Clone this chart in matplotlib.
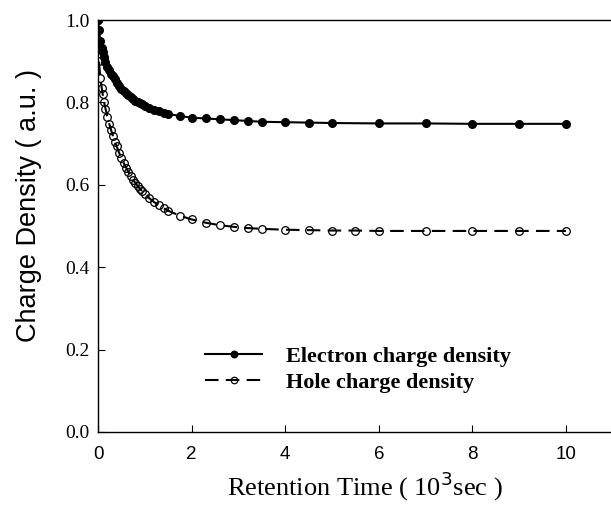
import matplotlib
matplotlib.use("Agg")
import matplotlib.pyplot as plt

# ---- data ----
t_electron = [0, 0.02, 0.05, 0.08, 0.1, 0.13, 0.16, 0.2, 0.24, 0.28, 0.32, 0.36, 0.4,
              0.45, 0.5, 0.55, 0.6, 0.65, 0.7, 0.75, 0.8, 0.85, 0.9, 0.95, 1.0, 1.1,
              1.2, 1.3, 1.4, 1.5, 1.75, 2.0, 2.3, 2.6, 2.9, 3.2, 3.5, 4, 4.5, 5, 6, 7,
              8, 9, 10]
electron = [1.0, 0.975, 0.95, 0.932, 0.922, 0.91, 0.898, 0.887, 0.878, 0.870, 0.863,
            0.856, 0.848, 0.840, 0.833, 0.827, 0.822, 0.817, 0.812, 0.808, 0.804, 0.801,
            0.798, 0.795, 0.792, 0.787, 0.782, 0.778, 0.775, 0.772, 0.767, 0.763, 0.761,
            0.759, 0.757, 0.755, 0.753, 0.752, 0.751, 0.750, 0.749, 0.749, 0.748, 0.748,
            0.748]

t_hole = [0, 0.02, 0.05, 0.08, 0.1, 0.13, 0.16, 0.2, 0.24, 0.28, 0.32, 0.36, 0.4,
          0.45, 0.5, 0.55, 0.6, 0.65, 0.7, 0.75, 0.8, 0.85, 0.9, 0.95, 1.0, 1.1, 1.2,
          1.3, 1.4, 1.5, 1.75, 2.0, 2.3, 2.6, 2.9, 3.2, 3.5, 4, 4.5, 5, 5.5, 6, 7, 8,
          9, 10]
hole = [1.0, 0.90, 0.86, 0.835, 0.82, 0.80, 0.785, 0.765, 0.748, 0.733, 0.718, 0.705,
        0.693, 0.678, 0.665, 0.653, 0.642, 0.631, 0.621, 0.612, 0.604, 0.597, 0.590,
        0.584, 0.578, 0.567, 0.558, 0.550, 0.543, 0.537, 0.525, 0.516, 0.508, 0.502,
        0.498, 0.495, 0.493, 0.491, 0.490, 0.489, 0.489, 0.488, 0.488, 0.488, 0.488,
        0.488]

x_ticks = [0, 2, 4, 6, 8, 10]
y_ticks = [0.0, 0.2, 0.4, 0.6, 0.8, 1.0]
labels = ["Electron charge density", "Hole charge density"]

serif = ["Liberation Serif", "DejaVu Serif"]
sans = ["Liberation Sans", "DejaVu Sans"]

fig = plt.figure(figsize=(6.11, 5.16), dpi=100)
ax = fig.add_axes([0.1604, 0.1628, 0.8396, 0.7984])

ax.plot(t_electron, electron, '-', color='black', lw=1.5, marker='o', ms=5.5,
        mfc='black', mec='black', label=labels[0])
ax.plot(t_hole, hole, '--', color='black', lw=1.5, marker='o', ms=5.5,
        mfc='none', mec='black', mew=0.9, dashes=(6.5, 3.5), label=labels[1])

ax.set_xlim(0, 10.96)
ax.set_ylim(0, 1.0)
ax.set_xticks(x_ticks)
ax.set_yticks(y_ticks)
ax.set_xticklabels([str(v) for v in x_ticks], fontfamily=sans, fontsize=13.5)
ax.set_yticklabels([f"{v:.1f}" for v in y_ticks], fontfamily=serif, fontsize=14)
ax.tick_params(axis='x', direction='in', length=5, width=0.8, pad=10)
ax.tick_params(axis='y', direction='in', length=5, width=0.8, pad=6)
ax.spines['right'].set_visible(False)
for s in ['left', 'bottom', 'top']:
    ax.spines[s].set_linewidth(1.0)

ax.set_xlabel("Retention Time ( 10$^3$sec )", fontfamily=serif, fontsize=19)
ax.set_ylabel("Charge Density ( a.u. )", fontfamily=sans, fontsize=19.5)
ax.xaxis.set_label_coords(0.52, -0.092)
ax.yaxis.set_label_coords(-0.109, 0.549)

leg = ax.legend(loc='upper left', bbox_to_anchor=(0.208, 0.208), frameon=False,
                borderaxespad=0, borderpad=0, handlelength=2.6, handletextpad=1.05,
                labelspacing=0.25, markerscale=0.85, numpoints=1,
                prop={'family': serif, 'weight': 'bold', 'size': 16})

fig.savefig("out.png", dpi=100)
